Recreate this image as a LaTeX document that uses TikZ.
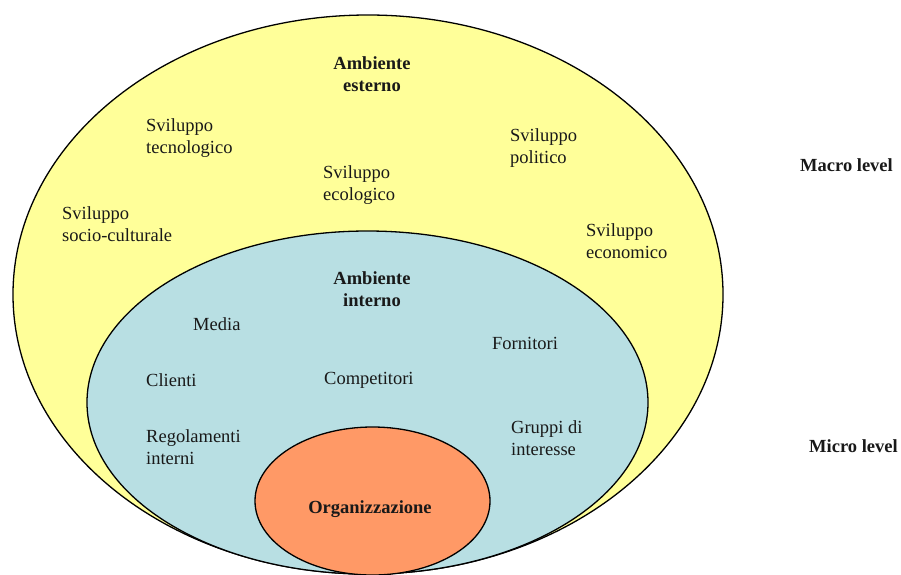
\documentclass[tikz,border=0pt]{standalone}
\usepackage{fontspec}
\setmainfont{Liberation Serif}
\usetikzlibrary{shapes.geometric}
\definecolor{macrofill}{HTML}{FFFF99}
\definecolor{microfill}{HTML}{B8DFE3}
\definecolor{orgfill}{HTML}{FF9966}
\begin{document}
\begin{tikzpicture}[x=1pt,y=-1pt,
  ring/.style={ellipse, draw=black, line width=1.3pt, inner sep=0pt, outer sep=0pt},
  lbl/.style={font=\fontsize{18.5}{22}\selectfont, align=left, anchor=west, inner sep=0pt, text=black!90, yshift=-1.5pt},
  head/.style={font=\fontsize{18.5}{22}\selectfont\bfseries, align=center, inner sep=0pt, text=black!90, yshift=-1.5pt},
  lvl/.style={font=\fontsize{18.5}{22}\selectfont\bfseries, anchor=west, inner sep=0pt, text=black!90, yshift=-1pt}]
\useasboundingbox (0,0) rectangle (901,574);

% nested environments
\node[ring, fill=macrofill, minimum width=710pt, minimum height=559pt] (macro) at (368,294.5) {};
\node[ring, fill=microfill, minimum width=561pt, minimum height=343pt] (micro) at (367.5,402.5) {};
\node[ring, fill=orgfill, minimum width=235pt, minimum height=148pt] (org) at (372.5,501) {};

% external environment
\node[head] (est) at (372,72.5) {Ambiente\\esterno};
\node[lbl] (tec) at (146,137) {Sviluppo\\tecnologico};
\node[lbl] (eco) at (323,184) {Sviluppo\\ecologico};
\node[lbl] (pol) at (510,147) {Sviluppo\\politico};
\node[lbl] (soc) at (62,223) {Sviluppo\\socio-culturale};
\node[lbl] (econ) at (586,240) {Sviluppo\\economico};

% internal environment
\node[head] (int) at (372,287.5) {Ambiente\\interno};
\node[lbl] (med) at (193,323) {Media};
\node[lbl] (for) at (492,342) {Fornitori};
\node[lbl] (cli) at (146,379) {Clienti};
\node[lbl] (com) at (324,379) {Competitori};
\node[lbl] (reg) at (146,446) {Regolamenti\\interni};
\node[lbl] (gru) at (511,437) {Gruppi di\\interesse};

% organisation
\node[head] (orgl) at (370,508) {Organizzazione};

% levels
\node[lvl] (macrol) at (800,164) {Macro level};
\node[lvl] (microl) at (809,445) {Micro level};
\end{tikzpicture}
\end{document}
